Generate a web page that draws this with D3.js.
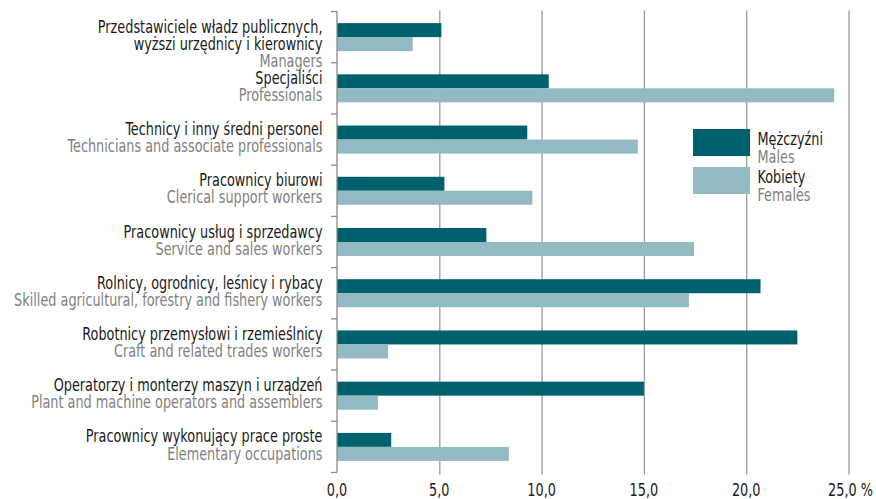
<!DOCTYPE html>
<html>
<head>
<meta charset="utf-8">
<script src="https://cdn.jsdelivr.net/npm/d3@7"></script>
<style>
  html, body { margin: 0; padding: 0; background: #fff; }
  svg { display: block; font-family: "DejaVu Sans Condensed", "Liberation Sans Narrow", "Roboto", sans-serif; }
</style>
</head>
<body>
<svg id="chart" width="876" height="499"></svg>
<script>
// ---- Data ----
const categoriesPL = [
  ["Przedstawiciele władz publicznych,", "wyższi urzędnicy i kierownicy"],
  ["Specjaliści"],
  ["Technicy i inny średni personel"],
  ["Pracownicy biurowi"],
  ["Pracownicy usług i sprzedawcy"],
  ["Rolnicy, ogrodnicy, leśnicy i rybacy"],
  ["Robotnicy przemysłowi i rzemieślnicy"],
  ["Operatorzy i monterzy maszyn i urządzeń"],
  ["Pracownicy wykonujący prace proste"]
];
const categoriesEN = [
  "Managers",
  "Professionals",
  "Technicians and associate professionals",
  "Clerical support workers",
  "Service and sales workers",
  "Skilled agricultural, forestry and fishery workers",
  "Craft and related trades workers",
  "Plant and machine operators and assemblers",
  "Elementary occupations"
];
const malesValues   = [5.1, 10.35, 9.3, 5.25, 7.3, 20.7, 22.5, 15.0, 2.65];
const femalesValues = [3.7, 24.3, 14.7, 9.55, 17.45, 17.2, 2.5, 2.0, 8.4];
const xTicks = [0, 5, 10, 15, 20, 25];
const xTickLabels = ["0,0", "5,0", "10,0", "15,0", "20,0", "25,0 %"];
const seriesKeys = ["m", "f"];
const seriesNamesPL = ["Mężczyźni", "Kobiety"];
const seriesNamesEN = ["Males", "Females"];
const seriesColors = ["#00616e", "#93b9c2"];

// ---- Layout ----
const svg = d3.select("#chart");
const SX = 0.84; // horizontal condensing of text
const x0 = 337, x1 = 848.5, yTop = 11.5, yBot = 472.5;
const x = d3.scaleLinear().domain([0, 25]).range([x0, x1]);
const idx = d3.range(categoriesEN.length);
const y = d3.scaleBand().domain(idx).range([yTop, yBot]).paddingInner(0).paddingOuter(0);
const bw = y.bandwidth();
const ySub = d3.scaleBand().domain(seriesKeys).range([bw / 2 - 14, bw / 2 + 14]);
const color = d3.scaleOrdinal().domain(seriesKeys).range(seriesColors);

function label(parent, tx, ty, txt, opts) {
  return parent.append("text")
    .attr("transform", `translate(${tx},${ty}) scale(${SX},1)`)
    .attr("text-anchor", opts.anchor || "start")
    .attr("font-size", opts.size || 17)
    .attr("fill", opts.fill || "#1a1a1a")
    .text(txt);
}

// gridlines
svg.append("g").selectAll("line").data(xTicks.filter(t => t > 0)).join("line")
  .attr("x1", d => x(d) + 0.5).attr("x2", d => x(d) + 0.5)
  .attr("y1", yTop - 1).attr("y2", yBot + 2)
  .attr("stroke", "#9a9a9a").attr("stroke-width", 1.3);

// bars
const rows = idx.map(i => ({ i, m: malesValues[i], f: femalesValues[i] }));
const g = svg.append("g");
g.selectAll("g").data(rows).join("g")
  .attr("transform", d => `translate(0,${y(d.i)})`)
  .selectAll("rect").data(d => seriesKeys.map(k => ({ k, v: d[k] }))).join("rect")
  .attr("x", x(0))
  .attr("y", d => ySub(d.k))
  .attr("width", d => x(d.v) - x(0))
  .attr("height", ySub.bandwidth())
  .attr("fill", d => color(d.k));

// left axis line with ticks at band boundaries
const boundaries = idx.map(i => y(i)).concat([yBot]);
const axisG = svg.append("g").attr("stroke", "#8a8a8a").attr("stroke-width", 1.3);
axisG.append("line").attr("x1", x0).attr("x2", x0).attr("y1", yTop).attr("y2", yBot);
axisG.selectAll("line.tk").data(boundaries).join("line").attr("class", "tk")
  .attr("x1", x0 - 6).attr("x2", x0).attr("y1", d => d).attr("y2", d => d);

// x tick labels
const tg = svg.append("g");
xTicks.forEach((d, i) => {
  label(tg, x(d) + (d === 25 ? 2 : 0), 495.5, xTickLabels[i], { anchor: "middle", size: 17 });
});

// category labels
const labelG = svg.append("g");
idx.forEach(i => {
  const c = y(i) + bw / 2;
  const lines = categoriesPL[i].map(t => ({ t, fill: "#1a1a1a" }))
    .concat([{ t: categoriesEN[i], fill: "#7f7f7f" }]);
  lines.forEach((ln, j) => {
    label(labelG, 322.5, c - 4.5 + 17.2 * j, ln.t, { anchor: "end", size: 17, fill: ln.fill });
  });
});

// legend
const leg = svg.append("g");
seriesKeys.forEach((k, i) => {
  const top = 129 + i * 38;
  leg.append("rect").attr("x", 693).attr("y", top).attr("width", 57).attr("height", 27).attr("fill", color(k));
  label(leg, 757.5, top + 16, seriesNamesPL[i], { size: 17, fill: "#1a1a1a" });
  label(leg, 757.5, top + 33.5, seriesNamesEN[i], { size: 17, fill: "#7f7f7f" });
});
</script>
</body>
</html>
